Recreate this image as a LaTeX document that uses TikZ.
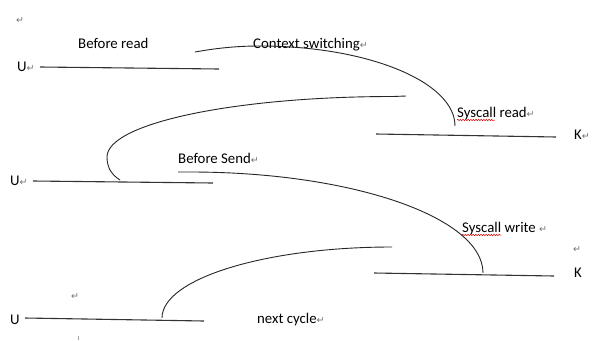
\documentclass[tikz,border=0pt]{standalone}
\usepackage{fontspec}
\setmainfont{Carlito}
\newfontfamily\dejavufam{DejaVu Sans}
\usetikzlibrary{decorations.pathmorphing}
\newcommand\pmk{{\dejavufam\fontsize{9.5}{9.5}\selectfont\color{black!55}↵}}
\begin{document}
\begin{tikzpicture}[x=1pt,y=-1pt,
  lbl/.style={anchor=base west,inner sep=0pt,font=\fontsize{14.8}{17}\selectfont},
  track/.style={line width=1.1pt,draw=black!80},
  hop/.style={line width=0.9pt,draw=black!85},
  spell/.style={draw=red!85!black,line width=0.5pt,decorate,
    decoration={snake,amplitude=0.7pt,segment length=2.6pt}}]
\useasboundingbox (0,0) rectangle (596,340);
\fill[white] (0,0) rectangle (596,340);

% labels
\node[lbl] (m0) at (16,23) {\pmk};
\node[lbl] (br) at (78,48) {Before read};
\node[lbl] (cs) at (253,48) {Context switching\pmk};
\node[lbl] (u1) at (17,71) {U\pmk};
\node[lbl] (sr) at (457,117) {Syscall read\pmk};
\node[lbl] (k1) at (574,139) {K\pmk};
\node[lbl] (bs) at (178,163) {Before Send\pmk};
\node[lbl] (u2) at (10,185) {U\pmk};
\node[lbl] (sw) at (462,232) {Syscall write \pmk};
\node[lbl] (m1) at (573,252) {\pmk};
\node[lbl] (k2) at (574,277) {K};
\node[lbl] (m2) at (71,299) {\pmk};
\node[lbl] (nc) at (257,323) {next cycle\pmk};
\node[lbl] (u3) at (10,324) {U};

% spell-check underlines
\draw[spell] ([yshift=-3pt]sr.base west) -- ++(38,0);
\draw[spell] ([yshift=-3pt]sw.base west) -- ++(39,0);

% tracks
\coordinate (u1a) at (40,67);   \coordinate (u1b) at (219,69);
\coordinate (k1a) at (376,134); \coordinate (k1b) at (556,137);
\coordinate (u2a) at (33,181);  \coordinate (u2b) at (213,183);
\coordinate (k2a) at (374,273); \coordinate (k2b) at (554,276);
\coordinate (u3a) at (25,318);  \coordinate (u3b) at (204,321);
\draw[track] (u1a) -- (u1b);
\draw[track] (k1a) -- (k1b);
\draw[track] (u2a) -- (u2b);
\draw[track] (k2a) -- (k2b);
\draw[track] (u3a) -- (u3b);

% hops
\coordinate (c1s) at (195,52);  \coordinate (c1e) at (455,126);
\coordinate (c2s) at (406,96);  \coordinate (c2e) at (120,180);
\coordinate (c3s) at (178,172); \coordinate (c3e) at (483,273);
\coordinate (c4s) at (392,247); \coordinate (c4e) at (162,318);
\draw[hop] (c1s) .. controls (220,47.5) and (240,46) .. (260,46)
  .. controls (367.6,46) and (455,81.8) .. (c1e);
\draw[hop] (c2s) -- (393,96.5)
  .. controls (235,96.5) and (107,123.3) .. (107,157)
  .. controls (107,168) and (112,175) .. (c2e);
\draw[hop] (c3s) -- (190,172)
  .. controls (351.7,172) and (483,217.2) .. (c3e);
\draw[hop] (c4s) .. controls (265,247) and (162,278.8) .. (c4e);

% tiny stray mark at bottom
\draw[black!35,line width=0.6pt] (78,336) -- (78,340);
\end{tikzpicture}
\end{document}
